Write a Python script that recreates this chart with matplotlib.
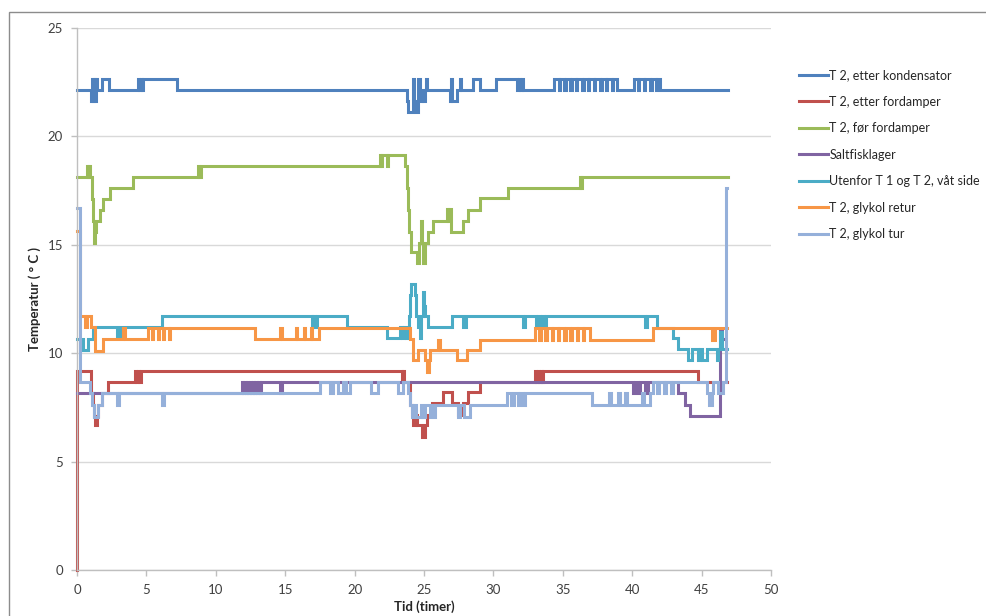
import matplotlib
matplotlib.use("Agg")
import matplotlib.pyplot as plt
from matplotlib.patches import Rectangle

plt.rcParams['font.family'] = ['Lato', 'DejaVu Sans']

# ---- data: (time [h], temperature [°C]) step breakpoints ----
series_names = ["T 2, etter kondensator", "T 2, etter fordamper", "T 2, før fordamper",
                "Saltfisklager", "Utenfor T 1 og T 2, våt side", "T 2, glykol retur",
                "T 2, glykol tur"]

kondensator = [(0, 22.15), (1.0, 21.62), (1.08, 22.65), (1.16, 21.62), (1.24, 22.65), (1.32, 21.62),
               (1.4, 22.65), (1.46, 22.15), (1.8, 22.65), (2.3, 22.15), (4.4, 22.65), (4.5, 22.15),
               (4.58, 22.65), (4.66, 22.15), (4.74, 22.65), (7.2, 22.15),
               (23.75, 21.62), (23.85, 21.12), (24.2, 22.65), (24.3, 21.62), (24.4, 21.12), (24.55, 22.65),
               (24.7, 21.62), (24.85, 22.15), (24.95, 21.62), (25.05, 22.15), (25.15, 22.65), (25.25, 22.15),
               (26.85, 21.62), (26.95, 22.65), (27.05, 21.62), (27.4, 22.15), (27.6, 22.65), (27.7, 22.15),
               (28.55, 22.65), (29.0, 22.15), (30.2, 22.65), (31.7, 22.15), (31.85, 22.65), (31.95, 22.15),
               (32.05, 22.65), (32.15, 22.15),
               (34.4, 22.65), (34.7, 22.15), (34.8, 22.65), (35.1, 22.15), (35.2, 22.65), (35.55, 22.15),
               (35.65, 22.65), (35.95, 22.15), (36.05, 22.65), (36.4, 22.15), (36.5, 22.65), (36.8, 22.15),
               (36.9, 22.65), (37.25, 22.15), (37.35, 22.65), (37.7, 22.15), (37.8, 22.65), (38.1, 22.15),
               (38.2, 22.65), (38.55, 22.15), (38.65, 22.65), (38.9, 22.15),
               (40.1, 22.65), (40.4, 22.15), (40.5, 22.65), (40.85, 22.15), (40.95, 22.65), (41.3, 22.15),
               (41.4, 22.65), (41.7, 22.15), (41.8, 22.65), (42.0, 22.15),
               (46.9, 22.15)]

etter_fordamper = [(0, 0), (0.02, 9.2), (1.0, 8.15), (1.12, 7.6), (1.22, 7.1), (1.3, 6.7), (1.42, 7.1),
                   (1.54, 7.6), (1.78, 8.15), (2.26, 8.69), (4.18, 9.2), (4.28, 8.69), (4.38, 9.2),
                   (4.48, 8.69), (4.58, 9.2),
                   (23.39, 8.69), (23.47, 9.2), (23.55, 8.69), (23.99, 7.6), (24.1, 7.15), (24.23, 6.69),
                   (24.4, 7.15), (24.5, 6.69), (24.83, 6.15), (25.07, 6.69), (25.19, 7.15), (25.55, 7.69),
                   (26.39, 8.22), (27.0, 7.69), (27.47, 7.15), (27.83, 7.69), (28.19, 8.22), (29.03, 8.69),
                   (33.0, 9.2), (33.1, 8.69), (33.2, 9.2), (33.3, 8.69), (33.4, 9.2), (33.5, 8.69),
                   (33.6, 9.2), (44.76, 8.69), (46.8, 8.69)]

for_fordamper = [(0, 18.14), (0.74, 18.65), (0.82, 18.14), (0.9, 18.65), (0.97, 18.14), (1.06, 17.1),
                 (1.14, 16.1), (1.22, 15.1), (1.32, 15.6), (1.4, 16.1), (1.66, 16.6), (1.9, 17.1),
                 (2.38, 17.6), (4.06, 18.14), (8.74, 18.65), (8.82, 18.14), (8.9, 18.65), (21.83, 19.14),
                 (21.92, 18.65), (22.0, 19.14), (22.3, 18.65), (22.43, 19.14),
                 (23.63, 18.65), (23.75, 17.6), (23.85, 16.6), (23.95, 15.6), (24.05, 14.65), (24.5, 14.15),
                 (24.65, 15.1), (24.75, 16.1), (24.85, 15.1), (24.95, 14.15), (25.1, 15.1), (25.3, 15.6),
                 (25.67, 16.1), (26.63, 16.65), (26.75, 16.1), (26.82, 16.65), (26.95, 15.6), (27.83, 16.1),
                 (28.2, 16.6), (29.03, 17.15), (31.07, 17.6), (36.24, 18.14), (36.32, 17.6), (36.4, 18.14),
                 (46.9, 18.14)]

saltfisklager = [(0, 8.15), (11.86, 8.66), (11.95, 8.15), (12.05, 8.66), (12.15, 8.15), (12.25, 8.66),
                 (12.35, 8.15), (12.45, 8.66), (12.55, 8.15), (12.65, 8.66), (12.75, 8.15), (12.85, 8.66),
                 (12.95, 8.15), (13.05, 8.66), (13.15, 8.15), (13.25, 8.66), (14.65, 8.15), (14.8, 8.66),
                 (40.08, 8.15), (40.2, 8.66), (40.44, 8.15), (40.56, 8.66), (40.92, 8.15), (41.16, 8.66),
                 (43.32, 8.15), (43.8, 7.6), (44.16, 7.1), (46.32, 11.1), (46.45, 10.65), (46.7, 10.65)]

utenfor = [(0, 10.65), (0.2, 10.15), (0.3, 10.65), (0.4, 10.15), (0.8, 10.65), (1.18, 11.2), (2.9, 10.7),
           (3.1, 11.2), (6.1, 11.7), (16.9, 11.2), (17.0, 11.7), (17.15, 11.2), (17.3, 11.7), (19.43, 11.2),
           (22.3, 10.7), (23.3, 11.2), (23.45, 10.7), (23.55, 11.2), (23.7, 10.7), (23.95, 11.7),
           (24.0, 12.7), (24.05, 13.2), (24.35, 12.7), (24.45, 11.7), (24.6, 11.2), (24.7, 10.7),
           (24.8, 11.7), (24.9, 12.8), (25.0, 12.2), (25.1, 11.7), (25.3, 11.2), (27.0, 11.7),
           (27.8, 11.2), (28.0, 11.7), (32.1, 11.2), (32.25, 11.7), (33.1, 11.2), (33.2, 11.7),
           (33.35, 11.2), (33.5, 11.7), (33.65, 11.2), (33.8, 11.7), (40.9, 11.2), (41.05, 11.7),
           (41.76, 11.15), (42.96, 10.7), (43.32, 10.2), (44.04, 9.7), (44.28, 10.2), (44.76, 9.7),
           (44.9, 10.2), (45.0, 9.7), (45.37, 10.2), (46.08, 9.7), (46.2, 10.2), (46.32, 11.0),
           (46.45, 10.2), (46.8, 10.2)]

glykol_retur = [(0, 15.65), (0.2, 11.7), (0.6, 11.2), (0.7, 11.7), (1.0, 11.2), (1.3, 10.1), (1.9, 10.65),
                (3.3, 11.15), (3.45, 10.65), (5.14, 11.15), (5.4, 10.65), (5.5, 11.15), (5.8, 10.65),
                (5.9, 11.15), (6.2, 10.65), (6.3, 11.15), (6.6, 10.65), (6.7, 11.15), (12.8, 10.65),
                (14.65, 11.15), (14.75, 10.65), (15.75, 11.15), (15.85, 10.65), (16.35, 11.15), (16.45, 10.65),
                (16.85, 11.15), (16.95, 10.65), (17.4, 11.15), (24.0, 10.65),
                (24.23, 9.7), (24.59, 10.15), (25.07, 9.7), (25.2, 9.15), (25.35, 9.7), (25.43, 10.15),
                (26.03, 10.6), (26.15, 10.15), (27.35, 9.7), (28.07, 10.15), (29.03, 10.6), (33.0, 11.15),
                (33.3, 10.6), (33.4, 11.15), (33.75, 10.6), (33.85, 11.15), (34.2, 10.6), (34.3, 11.15),
                (34.65, 10.6), (34.75, 11.15), (35.1, 10.6), (35.2, 11.15), (35.55, 10.6), (35.65, 11.15),
                (36.0, 10.6), (36.1, 11.15), (36.45, 10.6), (36.55, 11.15), (36.96, 10.6), (41.52, 11.15),
                (45.72, 10.6), (45.96, 11.15), (46.8, 11.15)]

glykol_tur = [(0, 16.7), (0.25, 8.69), (0.95, 8.15), (1.1, 7.6), (1.25, 7.07), (1.5, 7.6), (1.8, 8.15),
              (2.86, 7.6), (3.0, 8.15), (6.1, 7.6), (6.25, 8.15), (17.5, 8.66), (18.2, 8.15), (18.45, 8.66),
              (18.8, 8.15), (19.15, 8.66), (19.4, 8.15), (19.7, 8.66), (21.2, 8.15), (21.7, 8.66),
              (23.1, 8.15), (23.5, 8.66), (23.85, 8.15), (24.0, 7.6), (24.1, 7.07), (24.3, 7.6),
              (24.4, 7.07), (24.75, 7.6), (24.85, 7.07), (25.1, 7.6), (25.4, 7.07), (25.5, 7.6),
              (25.7, 7.07), (25.8, 7.6), (27.45, 7.07), (27.6, 7.6), (27.9, 7.07), (28.3, 7.6),
              (30.95, 8.15), (31.3, 7.6), (31.45, 8.15), (31.75, 7.6), (31.9, 8.15), (32.15, 7.6),
              (32.3, 8.15), (37.08, 7.6), (38.35, 8.15), (38.45, 7.6), (39.0, 8.15), (39.1, 7.6),
              (39.5, 8.15), (39.6, 7.6), (40.7, 8.15), (40.85, 7.6), (41.28, 8.15), (41.52, 8.66),
              (41.8, 8.15), (41.95, 8.66), (42.3, 8.15), (42.45, 8.66), (42.8, 8.15), (42.95, 8.66),
              (45.37, 8.15), (45.5, 7.6), (45.75, 8.15), (45.84, 8.66), (46.2, 8.15), (46.56, 8.66),
              (46.78, 17.6), (46.82, 17.6)]

x_ticks = [0, 5, 10, 15, 20, 25, 30, 35, 40, 45, 50]
y_ticks = [0, 5, 10, 15, 20, 25]
x_label = "Tid (timer)"
y_label = "Temperatur ( ° C )"

all_series = [kondensator, etter_fordamper, for_fordamper, saltfisklager, utenfor, glykol_retur, glykol_tur]
colors = ['#4F81BD', '#C0504D', '#9BBB59', '#8064A2', '#4BACC6', '#F79646', '#95B0DA']

# ---- figure ----
fig = plt.figure(figsize=(9.86, 6.16), dpi=100)
W, H = 986, 616
ax = fig.add_axes([77 / W, 46 / H, 694 / W, 542 / H])

# outer chart frame (extends past the cropped image edges)
fig.patches.append(Rectangle((9 / W, -0.1), 1.2, 1 - 12 / H + 0.1, transform=fig.transFigure,
                             fill=False, edgecolor='#8C8C8C', linewidth=1.0, zorder=0))

handles = []
for data, name, c in zip(all_series, series_names, colors):
    t = [p[0] for p in data]
    v = [p[1] for p in data]
    ln, = ax.plot(t, v, drawstyle='steps-post', color=c, lw=2.2, label=name,
                  solid_joinstyle='miter', clip_on=False)
    handles.append(ln)

ax.set_xlim(0, 50)
ax.set_ylim(0, 25)
ax.set_xticks(x_ticks)
ax.set_yticks(y_ticks)
ax.yaxis.grid(True, color='#D9D9D9', linewidth=1.0)
ax.set_axisbelow(True)
for s in ['top', 'right']:
    ax.spines[s].set_visible(False)
for s in ['left', 'bottom']:
    ax.spines[s].set_color('#BFBFBF')
    ax.spines[s].set_linewidth(1.0)
ax.tick_params(axis='both', direction='out', length=4, width=1, color='#BFBFBF',
               labelsize=9.5, labelcolor='#404040')
ax.tick_params(axis='x', pad=6)
ax.tick_params(axis='y', pad=6)

ax.set_xlabel(x_label, fontsize=9.5, fontweight='bold', color='#262626', va='center')
ax.xaxis.set_label_coords(0.5, -37 / 542)
ax.set_ylabel(y_label, fontsize=9.5, fontweight='bold', color='#262626', va='center')
ax.yaxis.set_label_coords(-42 / 694, 0.5)

fig.legend(handles, series_names, loc='upper left', bbox_to_anchor=(793 / W, 1 - 63 / H),
           frameon=False, fontsize=9, borderpad=0, handlelength=2.3, handletextpad=0.1,
           labelspacing=1.16, labelcolor='#262626')

fig.savefig('out.png', dpi=100)
